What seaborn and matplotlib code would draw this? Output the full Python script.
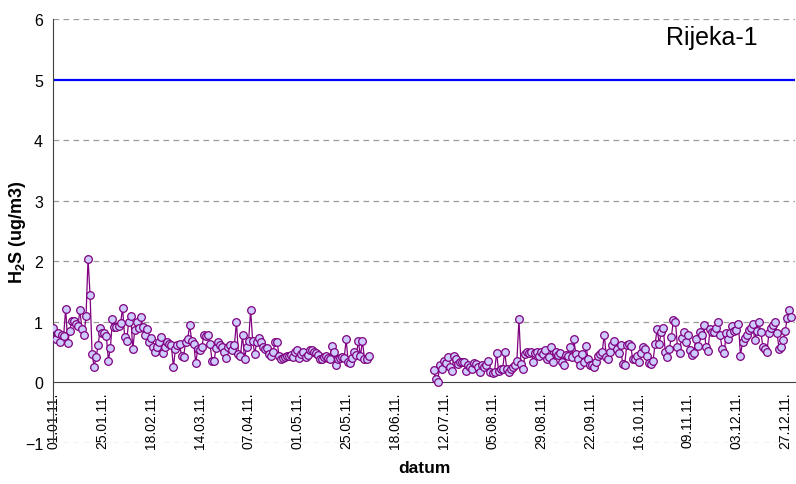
import matplotlib
matplotlib.use('Agg')
import matplotlib.pyplot as plt
import matplotlib.dates as mdates
import seaborn as sns

import pandas as pd


# dnevne vrijednosti H2S (ug/m3), Rijeka-1, 2011.
start_1 = '2011-01-01'
values_1 = [0.90, 0.71, 0.82, 0.66, 0.78, 0.77, 1.22, 0.65, 0.85, 1.02,
            1.01, 0.97, 0.93, 1.19, 0.88, 0.79, 1.09, 2.04, 1.44, 0.47,
            0.26, 0.42, 0.62, 0.90, 0.82, 0.81, 0.77, 0.36, 0.57, 1.04,
            0.92, 0.91, 0.93, 0.98, 1.23, 0.75, 0.69, 1.00, 1.10, 0.55,
            0.86, 1.00, 0.90, 1.08, 0.91, 0.78, 0.88, 0.66, 0.73, 0.58,
            0.51, 0.58, 0.67, 0.75, 0.49, 0.58, 0.67, 0.64, 0.61, 0.25,
            0.56, 0.61, 0.64, 0.44, 0.42, 0.67, 0.72, 0.94, 0.69, 0.64,
            0.32, 0.56, 0.53, 0.58, 0.79, 0.77, 0.78, 0.64, 0.36, 0.36,
            0.57, 0.67, 0.61, 0.58, 0.51, 0.40, 0.58, 0.61, 0.53, 0.61,
            1.00, 0.47, 0.44, 0.78, 0.39, 0.58, 0.69, 1.19, 0.69, 0.47,
            0.67, 0.73, 0.67, 0.58, 0.56, 0.57, 0.47, 0.44, 0.50, 0.67,
            0.67, 0.44, 0.39, 0.40, 0.42, 0.43, 0.44, 0.46, 0.42, 0.51,
            0.53, 0.40, 0.47, 0.50, 0.42, 0.46, 0.53, 0.54, 0.51, 0.49,
            0.46, 0.38, 0.39, 0.42, 0.43, 0.40, 0.39, 0.60, 0.51, 0.29,
            0.39, 0.40, 0.42, 0.40, 0.71, 0.33, 0.32, 0.40, 0.50, 0.46,
            0.68, 0.43, 0.69, 0.38, 0.39, 0.43]

start_2 = '2011-07-07'
values_2 = [0.20, 0.05, 0.01, 0.28, 0.22, 0.36, 0.32, 0.42, 0.25, 0.19,
            0.44, 0.39, 0.31, 0.33, 0.34, 0.33, 0.19, 0.29, 0.25, 0.22,
            0.32, 0.31, 0.25, 0.18, 0.28, 0.25, 0.28, 0.36, 0.17, 0.16,
            0.18, 0.49, 0.19, 0.22, 0.23, 0.51, 0.22, 0.18, 0.23, 0.25,
            0.29, 0.36, 1.04, 0.31, 0.22, 0.47, 0.50, 0.49, 0.51, 0.34,
            0.49, 0.51, 0.43,
            0.51, 0.47, 0.53, 0.39, 0.42, 0.58, 0.33, 0.50, 0.46, 0.49,
            0.33, 0.29, 0.46, 0.43, 0.58, 0.42, 0.71, 0.47, 0.39, 0.29,
            0.47, 0.33, 0.60, 0.39, 0.29, 0.28, 0.25, 0.34, 0.43, 0.47,
            0.51, 0.79, 0.42, 0.38, 0.51, 0.61, 0.68, 0.56, 0.49, 0.61,
            0.31, 0.28, 0.61, 0.64, 0.60, 0.38, 0.38, 0.44, 0.34, 0.49,
            0.58, 0.56, 0.43, 0.32, 0.31, 0.36, 0.64, 0.88, 0.64, 0.83,
            0.90, 0.50, 0.42,
            0.56, 0.75, 1.03, 1.00, 0.59, 0.49, 0.74, 0.84, 0.67, 0.79,
            0.53, 0.45, 0.48, 0.71, 0.60, 0.84, 0.79, 0.95, 0.59, 0.52,
            0.88, 0.84, 0.84, 0.90, 1.00, 0.78, 0.55, 0.49, 0.81, 0.71,
            0.81, 0.93, 0.85, 0.86, 0.96, 0.44, 0.67, 0.74, 0.78, 0.86,
            0.90, 0.97, 0.70, 0.85, 1.00, 0.84, 0.59, 0.55, 0.51, 0.81,
            0.90, 0.95, 1.00, 0.81, 0.55, 0.59, 0.70, 0.85, 1.07, 1.19,
            1.08]

limit_value = 5
station = 'Rijeka-1'
tick_dates = pd.date_range('2011-01-01', '2011-12-31', freq='24D')

df = pd.concat([
    pd.DataFrame({'datum': pd.date_range(start_1, periods=len(values_1)),
                  'h2s': values_1, 'seg': 1}),
    pd.DataFrame({'datum': pd.date_range(start_2, periods=len(values_2)),
                  'h2s': values_2, 'seg': 2}),
])

sns.set_style('white')
plt.rcParams['font.family'] = ['Liberation Sans', 'DejaVu Sans']
plt.rcParams['text.color'] = 'black'
plt.rcParams['axes.labelcolor'] = 'black'
plt.rcParams['mathtext.fontset'] = 'custom'
plt.rcParams['mathtext.rm'] = 'Liberation Sans'
plt.rcParams['mathtext.bf'] = 'Liberation Sans:bold'

fig = plt.figure(figsize=(7.96, 4.85), dpi=100)
ax = fig.add_axes([0.0672, 0.0845, 0.932, 0.8743])

for y in [-1, 1, 2, 3, 4, 6]:
    ax.axhline(y, color='#999999', lw=0.9, ls=(0, (4.5, 3.5)), zorder=0)
ax.axhline(limit_value, color='#0000FF', lw=1.6, zorder=1)

sns.lineplot(data=df, x='datum', y='h2s', units='seg', estimator=None,
             color='#800080', linewidth=0.9, marker='o', markersize=5.5,
             markerfacecolor='#CCCCFF', markeredgecolor='#800080',
             markeredgewidth=0.9, ax=ax, zorder=3)

ax.set_ylim(-1, 6)
ax.set_yticks(range(-1, 7))
ax.set_xlim(pd.Timestamp('2011-01-01'), pd.Timestamp('2012-01-01'))
ax.set_xticks(tick_dates)
ax.xaxis.set_major_formatter(mdates.DateFormatter('%d.%m.%y.'))

ax.spines['top'].set_visible(False)
ax.spines['right'].set_visible(False)
ax.spines['bottom'].set_position(('data', 0))
ax.spines['bottom'].set_color('#404040')
ax.spines['left'].set_color('#404040')

ax.tick_params(axis='x', direction='out', length=3.6, color='#404040',
               labelcolor='black', labelsize=10, rotation=90, pad=3)
ax.tick_params(axis='y', direction='inout', length=7, color='#808080',
               labelcolor='black', labelsize=11.5, pad=4)

ax.set_xlabel('datum', fontsize=12.5, fontweight='bold')
ax.xaxis.set_label_coords(0.5, -0.04)
ax.set_ylabel(r'$\mathbf{H_2S}$ (ug/m3)', fontsize=13, fontweight='bold')
ax.yaxis.set_label_coords(-0.035, 0.5)

ax.text(0.888, 0.957, station, transform=ax.transAxes, fontsize=18,
        ha='center', va='center')

plt.savefig('out.png', dpi=100)
